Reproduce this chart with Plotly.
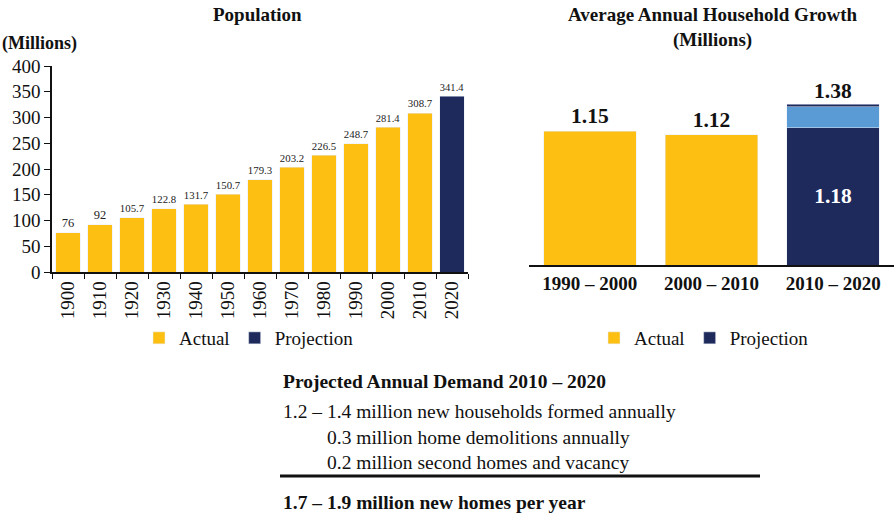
import plotly.graph_objects as go

# ---------------- data ----------------
pop_years = ["1900", "1910", "1920", "1930", "1940", "1950", "1960",
             "1970", "1980", "1990", "2000", "2010", "2020"]
pop_values = [76, 92, 105.7, 122.8, 131.7, 150.7, 179.3,
              203.2, 226.5, 248.7, 281.4, 308.7, 341.4]
pop_is_projection = [False] * 12 + [True]

hh_periods = ["1990 – 2000", "2000 – 2010", "2010 – 2020"]
hh_actual = [1.15, 1.12, None]
hh_proj_base = [None, None, 1.18]
hh_proj_range = [None, None, 0.18]
hh_proj_cap = [None, None, 0.02]
hh_proj_total = 1.38

demand_title = "Projected Annual Demand 2010 – 2020"
demand_lines = ["1.2 – 1.4 million new households formed annually",
                "0.3 million home demolitions annually",
                "0.2 million second homes and vacancy"]
demand_total = "1.7 – 1.9 million new homes per year"

GOLD = "#FCBF12"
NAVY = "#1F2A5C"
LIGHT = "#5B9BD5"
FONT = "Liberation Serif"
W, H = 894, 515


def px(x):
    return x / W


def py(y):
    return 1 - y / H


fig = go.Figure()

act_x = [y for y, p in zip(pop_years, pop_is_projection) if not p]
act_v = [v for v, p in zip(pop_values, pop_is_projection) if not p]
prj_x = [y for y, p in zip(pop_years, pop_is_projection) if p]
prj_v = [v for v, p in zip(pop_values, pop_is_projection) if p]

fig.add_trace(go.Bar(x=act_x, y=act_v, name="Actual", marker_color=GOLD,
                     text=[f"{v:g}" for v in act_v], textposition="outside",
                     textfont=dict(size=12.5, color="#222", family=FONT),
                     cliponaxis=False, xaxis="x", yaxis="y", legend="legend"))
fig.add_trace(go.Bar(x=prj_x, y=prj_v, name="Projection", marker_color=NAVY,
                     text=[f"{v:g}" for v in prj_v], textposition="outside",
                     textfont=dict(size=12.5, color="#222", family=FONT),
                     cliponaxis=False, xaxis="x", yaxis="y", legend="legend"))

# right chart
fig.add_trace(go.Bar(x=hh_periods, y=hh_actual, name="Actual", marker_color=GOLD,
                     text=[f"{v:.2f}" if v else "" for v in hh_actual],
                     textposition="outside",
                     textfont=dict(size=21.5, color="#111", family=FONT, weight="bold"),
                     cliponaxis=False, xaxis="x2", yaxis="y2", legend="legend2"))
fig.add_trace(go.Bar(x=hh_periods, y=hh_proj_base, name="Projection", marker_color=NAVY,
                     text=[f"{v:.2f}" if v else "" for v in hh_proj_base],
                     textposition="inside", insidetextanchor="middle",
                     textfont=dict(size=21.5, color="white", family=FONT, weight="bold"),
                     xaxis="x2", yaxis="y2", legend="legend2"))
fig.add_trace(go.Bar(x=hh_periods, y=hh_proj_range, name="Range", marker_color=LIGHT,
                     showlegend=False, xaxis="x2", yaxis="y2"))
fig.add_trace(go.Bar(x=hh_periods, y=hh_proj_cap, name="Cap", marker_color=NAVY,
                     showlegend=False, xaxis="x2", yaxis="y2"))

fig.add_annotation(x=hh_periods[2], y=hh_proj_total, xref="x2", yref="y2",
                   text=f"<b>{hh_proj_total:.2f}</b>", showarrow=False,
                   yanchor="bottom", yshift=-1,
                   font=dict(size=21.5, color="#111", family=FONT))

fig.update_layout(
    width=W, height=H,
    margin=dict(l=0, r=0, t=0, b=0, autoexpand=False),
    paper_bgcolor="white", plot_bgcolor="white",
    barmode="stack", bargap=0.24,
    font=dict(family=FONT, color="#111"),
    xaxis=dict(domain=[px(52), px(468)], type="category", anchor="y", automargin=False,
               showline=True, linecolor="#111", linewidth=1.5,
               ticks="outside", tickson="boundaries", ticklen=5, tickcolor="#111",
               tickangle=-90, tickfont=dict(size=19, family=FONT, color="#111"),
               showgrid=False),
    yaxis=dict(domain=[py(272), py(66)], range=[0, 400], anchor="x", automargin=False,
               showline=True, linecolor="#111", linewidth=1.5,
               ticks="outside", ticklen=6, tickcolor="#111", dtick=50,
               tickfont=dict(size=19, family=FONT, color="#111"),
               showgrid=False, zeroline=False),
    xaxis2=dict(domain=[px(529), 1.0], type="category", anchor="y2", automargin=False,
                showline=True, linecolor="#111", linewidth=1.5, ticks="",
                tickfont=dict(size=19, family=FONT, color="#111", weight="bold"),
                showgrid=False),
    yaxis2=dict(domain=[py(265), py(78.6)], range=[0, 1.6], anchor="x2", automargin=False,
                visible=False, showgrid=False, zeroline=False),
    legend=dict(orientation="h", x=px(249), xanchor="center", y=py(338), yanchor="middle",
                font=dict(size=19, family=FONT, color="#111"), bgcolor="rgba(0,0,0,0)",
                itemwidth=30, traceorder="normal"),
    legend2=dict(orientation="h", x=px(704), xanchor="center", y=py(338), yanchor="middle",
                 font=dict(size=19, family=FONT, color="#111"), bgcolor="rgba(0,0,0,0)",
                 itemwidth=30, traceorder="normal"),
    showlegend=True,
)

ann = []
ann.append(dict(x=px(257), y=py(14), text="<b>Population</b>", size=19))
ann.append(dict(x=px(713), y=py(27), text="<b>Average Annual Household Growth<br>(Millions)</b>",
                size=19))
ann.append(dict(x=px(0), y=py(44), text="<b>(Millions)</b>", xanchor="left", size=18))
ann.append(dict(x=px(281), y=py(381), text=f"<b>{demand_title}</b>", xanchor="left", size=19.5))
ann.append(dict(x=px(281), y=py(411), text=demand_lines[0], xanchor="left", size=19.5))
ann.append(dict(x=px(325), y=py(437), text=demand_lines[1], xanchor="left", size=19.5))
ann.append(dict(x=px(325), y=py(462), text=demand_lines[2], xanchor="left", size=19.5))
ann.append(dict(x=px(281), y=py(502), text=f"<b>{demand_total}</b>", xanchor="left", size=19.5))
for a in ann:
    fig.add_annotation(xref="paper", yref="paper", showarrow=False, yanchor="middle",
                       x=a["x"], y=a["y"], text=a["text"], xanchor=a.get("xanchor", "center"),
                       font=dict(family=FONT, color="#111", size=a["size"]))

fig.add_shape(type="line", xref="paper", yref="paper", x0=px(280), x1=px(760),
              y0=py(476), y1=py(476), line=dict(color="#111", width=3))

fig.write_html("out.html", config={"displayModeBar": False},
               post_script="document.body.style.margin='0px';"
                           "document.body.style.overflow='hidden';")
